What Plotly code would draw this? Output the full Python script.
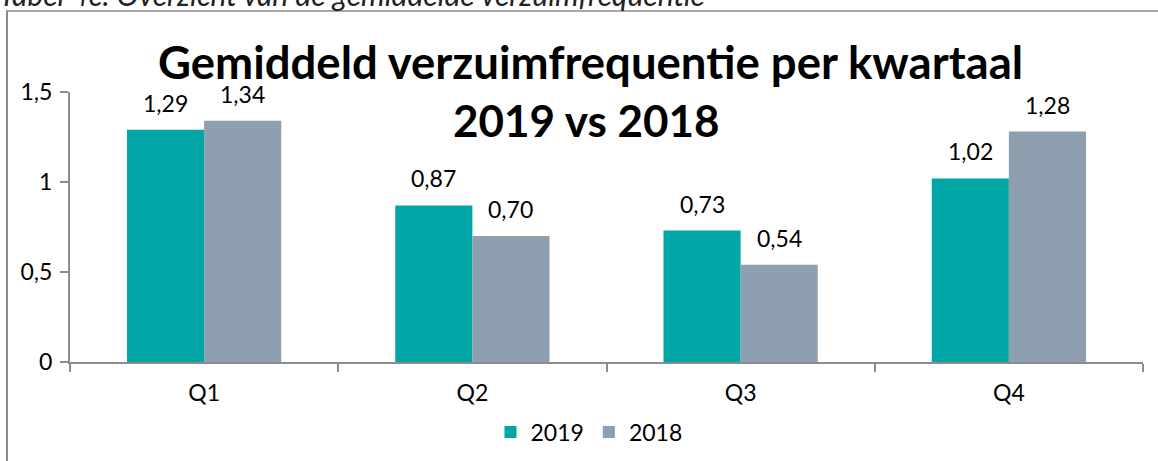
import plotly.graph_objects as go

categories = ["Q1", "Q2", "Q3", "Q4"]
values_2019 = [1.29, 0.87, 0.73, 1.02]
values_2018 = [1.34, 0.70, 0.54, 1.28]
labels_2019 = ["1,29", "0,87", "0,73", "1,02"]
labels_2018 = ["1,34", "0,70", "0,54", "1,28"]
y_ticks = [0, 0.5, 1, 1.5]
y_tick_labels = ["0", "0,5", "1", "1,5"]

FONT = "Lato"
FS = 23
C2019 = "#00A5A6"
C2018 = "#8E9FAF"
AX = "#8C8C8C"

W, H = 1158, 461
ML, MR, MT, MB = 70, 15, 92, 99
PW, PH = W - ML - MR, H - MT - MB

def px_x(x):
    return (x - ML) / PW

def px_y(y):
    return (H - MB - y) / PH

fig = go.Figure()
fig.add_trace(go.Bar(name="2019", x=categories, y=values_2019, marker_color=C2019,
                     marker_line_width=0))
fig.add_trace(go.Bar(name="2018", x=categories, y=values_2018, marker_color=C2018,
                     marker_line_width=0))

ann = []
bar_half = PW / 4 * (1 - 0.425) / 4
for i, c in enumerate(categories):
    ann.append(dict(x=c, y=values_2019[i], text=labels_2019[i], xref="x", yref="y",
                    showarrow=False, xshift=-bar_half, yshift=11, yanchor="bottom",
                    font=dict(family=FONT, size=FS, color="#000")))
    ann.append(dict(x=c, y=values_2018[i], text=labels_2018[i], xref="x", yref="y",
                    showarrow=False, xshift=bar_half, yshift=11, yanchor="bottom",
                    font=dict(family=FONT, size=FS, color="#000")))

ann.append(dict(x=px_x(590), y=px_y(62), xref="paper", yref="paper", showarrow=False,
                text="<b>Gemiddeld verzuimfrequentie per kwartaal</b>", xanchor="center",
                yanchor="middle", font=dict(family=FONT, size=45.5, color="#000")))
ann.append(dict(x=px_x(586), y=px_y(120), xref="paper", yref="paper", showarrow=False,
                text="<b>2019 vs 2018</b>", xanchor="center",
                yanchor="middle", font=dict(family=FONT, size=44, color="#000")))
ann.append(dict(x=px_x(-3), y=px_y(14), xref="paper", yref="paper", showarrow=False,
                text="<i>Tabel 4c. Overzicht van de gemiddelde verzuimfrequentie</i>",
                xanchor="left", yanchor="bottom",
                font=dict(family=FONT, size=30, color="#222")))

shapes = [
    dict(type="line", xref="paper", yref="paper", x0=px_x(7), x1=px_x(7),
         y0=px_y(11), y1=px_y(470), line=dict(color="#8C8C8C", width=2)),
    dict(type="line", xref="paper", yref="paper", x0=px_x(6), x1=px_x(1170),
         y0=px_y(11), y1=px_y(11), line=dict(color="#8C8C8C", width=1.5)),
]

fig.update_layout(
    width=W, height=H,
    margin=dict(l=ML, r=MR, t=MT, b=MB, autoexpand=False),
    paper_bgcolor="white", plot_bgcolor="white",
    separators=", ",
    barmode="group", bargap=0.425, bargroupgap=0,
    font=dict(family=FONT, size=FS, color="#000"),
    showlegend=True,
    legend=dict(orientation="h", x=px_x(589), xanchor="center", y=px_y(432),
                yanchor="middle", font=dict(family=FONT, size=FS, color="#000"),
                itemsizing="constant", traceorder="normal"),
    annotations=ann,
    shapes=shapes,
)
fig.update_xaxes(showline=True, linecolor=AX, linewidth=2, ticks="outside",
                 tickson="boundaries", ticklen=8, tickcolor=AX, tickwidth=2,
                 showgrid=False, ticklabelstandoff=9,
                 tickfont=dict(family=FONT, size=FS, color="#000"))
fig.update_yaxes(range=[0, 1.5], tickvals=y_ticks, ticktext=y_tick_labels,
                 showline=True, linecolor=AX, linewidth=2, ticks="outside",
                 ticklen=8, tickcolor=AX, tickwidth=2, showgrid=False, zeroline=False,
                 ticklabelstandoff=3,
                 tickfont=dict(family=FONT, size=FS, color="#000"))

fig.write_html("out.html", config={"displayModeBar": False},
               post_script="document.body.style.margin='0';document.body.style.padding='0';")
